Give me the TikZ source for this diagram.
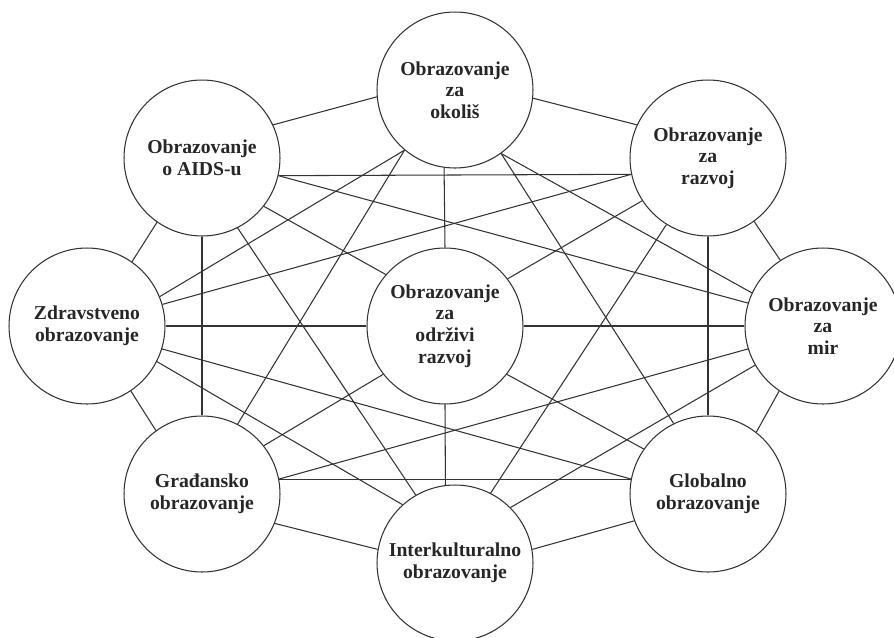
\documentclass[tikz,border=0pt]{standalone}
\usepackage{fontspec}
\setmainfont{Liberation Serif}
\begin{document}
\begin{tikzpicture}[x=0.02cm, y=-0.02cm,
	krug/.style={draw=black!80, line width=0.6pt, circle, minimum size=3.12cm, inner sep=0pt, align=center, text=black!85, font=\fontsize{11.2}{12.3}\selectfont\bfseries},
	veza/.style={black!80, line width=0.6pt}]
\useasboundingbox (0,0) rectangle (894,637);

	%% Krugovi
	\node[krug] (okolis) at (455,90) {Obrazovanje\\za\\okoliš};
	\node[krug] (aids) at (202,158) {Obrazovanje\\o AIDS-u};
	\node[krug] (razvoj) at (708,158) {Obrazovanje\\za\\razvoj};
	\node[krug] (zdrav) at (87,326) {Zdravstveno\\obrazovanje};
	\node[krug] (odrzivi) at (445,326) {Obrazovanje\\za\\održivi\\razvoj};
	\node[krug] (mir) at (823,326) {Obrazovanje\\za\\mir};
	\node[krug] (gradj) at (202,494) {Građansko\\obrazovanje};
	\node[krug] (global) at (708,494) {Globalno\\obrazovanje};
	\node[krug] (inter) at (455,563) {Interkulturalno\\obrazovanje};
	%%%%%%%%%%%%%%%%

	%% Veze
	\draw[veza] (okolis.185) -- (aids.25.6);
	\draw[veza] (okolis.354) -- (razvoj.155);
	\draw[veza] (okolis.230) -- (zdrav.22.3);
	\draw[veza] (okolis.306.7) -- (mir.155.4);
	\draw[veza] (okolis.230) -- (gradj.63.8);
	\draw[veza] (okolis.306.7) -- (global.116.9);
	\draw[veza] (okolis.262.6) -- (odrzivi.north);
	\draw[veza] (aids.347.4) -- (razvoj.192.6);
	\draw[veza] (aids.235.3) -- (zdrav.55.7);
	\draw[veza] (aids.347.4) -- (mir.163);
	\draw[veza] (aids.south) -- (gradj.north);
	\draw[veza] (aids.322.3) -- (odrzivi.139.6);
	\draw[veza] (aids.297.2) -- (inter.120.1);
	\draw[veza] (razvoj.306.3) -- (mir.123.7);
	\draw[veza] (razvoj.192.6) -- (zdrav.16.8);
	\draw[veza] (razvoj.south) -- (global.north);
	\draw[veza] (razvoj.213.7) -- (odrzivi.37.7);
	\draw[veza] (razvoj.238.7) -- (inter.63.4);
	\draw[veza] (zdrav.east) -- (odrzivi.west);
	\draw[veza] (zdrav.343.2) -- (global.169);
	\draw[veza] (zdrav.304.7) -- (gradj.126.3);
	\draw[veza] (zdrav.333.1) -- (inter.132.4);
	\draw[veza] (mir.west) -- (odrzivi.east);
	\draw[veza] (mir.197) -- (gradj.11);
	\draw[veza] (mir.236.3) -- (global.52.7);
	\draw[veza] (mir.210.5) -- (inter.45.5);
	\draw[veza] (odrzivi.218.3) -- (gradj.38.8);
	\draw[veza] (odrzivi.322.1) -- (global.145.5);
	\draw[veza] (odrzivi.south) -- (inter.97.4);
	\draw[veza] (gradj.11) -- (global.169);
	\draw[veza] (gradj.338.9) -- (inter.170.4);
	\draw[veza] (global.200.7) -- (inter.10.9);

\end{tikzpicture}
\end{document}
